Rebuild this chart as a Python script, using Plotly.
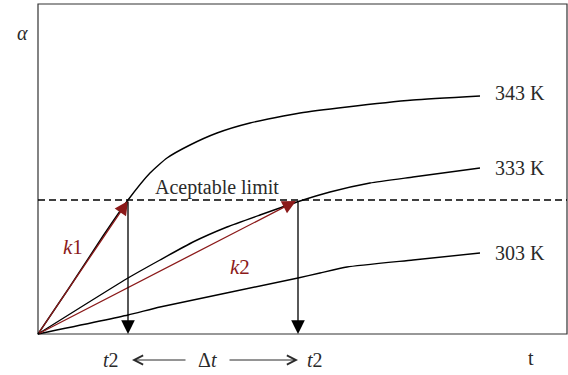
import plotly.graph_objects as go

# curve points (t, alpha) in plot units
t_343 = [0, 31, 65, 90, 112, 129, 152, 179, 212, 262, 309, 375, 442]
a_343 = [0, 46, 98, 134, 161, 176, 189, 201, 211, 221, 227, 234, 238]

t_333 = [0, 90, 122, 155, 189, 222, 262, 292, 332, 375, 442]
a_333 = [0, 56, 74, 92, 107, 119, 133, 142, 151, 157, 166]

t_303 = [0, 90, 122, 260, 282, 309, 375, 442]
a_303 = [0, 19, 27, 56, 61, 67, 74, 81]

curve_labels = ["343 K", "333 K", "303 K"]
label_alpha = [241, 166, 81]

limit_alpha = 134
t_k1 = 90
t_k2 = 260

x_max = 529
y_max = 330

serif = "Liberation Serif"
red = "#8b1a1a"
ink = "#2a2a2a"

fig = go.Figure()

for tx, ay in [(t_343, a_343), (t_333, a_333), (t_303, a_303)]:
    fig.add_trace(go.Scatter(
        x=tx, y=ay, mode="lines",
        line=dict(color="black", width=1.4, shape="spline", smoothing=0.5),
        hoverinfo="skip", showlegend=False,
    ))

# acceptable limit
fig.add_trace(go.Scatter(
    x=[0, x_max], y=[limit_alpha, limit_alpha], mode="lines",
    line=dict(color="black", width=1.5, dash="7px,4px"),
    hoverinfo="skip", showlegend=False,
))

ann = []
for lab, ya in zip(curve_labels, label_alpha):
    ann.append(dict(x=455, y=ya, text=lab, showarrow=False, xanchor="left",
                    font=dict(family=serif, size=20, color=ink)))

ann.append(dict(x=179, y=limit_alpha + 13, text="Aceptable limit", showarrow=False,
                font=dict(family=serif, size=20, color=ink)))

# rate arrows k1, k2
for tk in [t_k1, t_k2 - 2]:
    ann.append(dict(x=tk, y=limit_alpha - 1, ax=0, ay=0, xref="x", yref="y",
                    axref="x", ayref="y", text="", showarrow=True,
                    arrowhead=2, arrowsize=2.1, arrowwidth=1.3, arrowcolor=red))
ann.append(dict(x=35, y=87, text="<i>k</i>1", showarrow=False,
                font=dict(family=serif, size=21, color=red)))
ann.append(dict(x=202, y=67, text="<i>k</i>2", showarrow=False,
                font=dict(family=serif, size=21, color=red)))

# vertical drop arrows
for tk in [t_k1, t_k2]:
    ann.append(dict(x=tk, y=0, ax=tk, ay=limit_alpha, xref="x", yref="y",
                    axref="x", ayref="y", text="", showarrow=True,
                    arrowhead=2, arrowsize=2.1, arrowwidth=1.3, arrowcolor="black"))

# bottom labels
ann.append(dict(x=t_k1 - 17, y=-26, text="<i>t</i>2", showarrow=False,
                font=dict(family=serif, size=20, color=ink)))
ann.append(dict(x=t_k2 + 17, y=-26, text="<i>t</i>2", showarrow=False,
                font=dict(family=serif, size=20, color=ink)))
ann.append(dict(x=169, y=-26, text="Δ<i>t</i>", showarrow=False,
                font=dict(family=serif, size=20, color=ink)))
ann.append(dict(x=493, y=-24, text="t", showarrow=False,
                font=dict(family=serif, size=20, color=ink)))
ann.append(dict(x=-16, y=301, text="<i>α</i>", showarrow=False,
                font=dict(family=serif, size=20, color=ink)))

# Δt double arrow
ann.append(dict(x=94, y=-26, ax=149, ay=-26, xref="x", yref="y",
                axref="x", ayref="y", text="", showarrow=True,
                arrowhead=5, arrowsize=1.8, arrowwidth=1, arrowcolor=ink))
ann.append(dict(x=260, y=-26, ax=190, ay=-26, xref="x", yref="y",
                axref="x", ayref="y", text="", showarrow=True,
                arrowhead=5, arrowsize=1.8, arrowwidth=1, arrowcolor=ink))

# frame around the plotting region
fig.add_shape(type="rect", x0=0, y0=0, x1=x_max, y1=y_max, xref="x", yref="y",
              line=dict(color="#333333", width=1.2), layer="below")

fig.update_layout(
    width=568, height=375,
    margin=dict(l=0, r=0, t=0, b=0),
    paper_bgcolor="white", plot_bgcolor="white",
    annotations=ann,
    xaxis=dict(range=[-38, 530], visible=False),
    yaxis=dict(range=[-41, 334], visible=False),
)

fig.write_html("out.html", config={"displayModeBar": False},
               post_script="document.body.style.margin='0';")
